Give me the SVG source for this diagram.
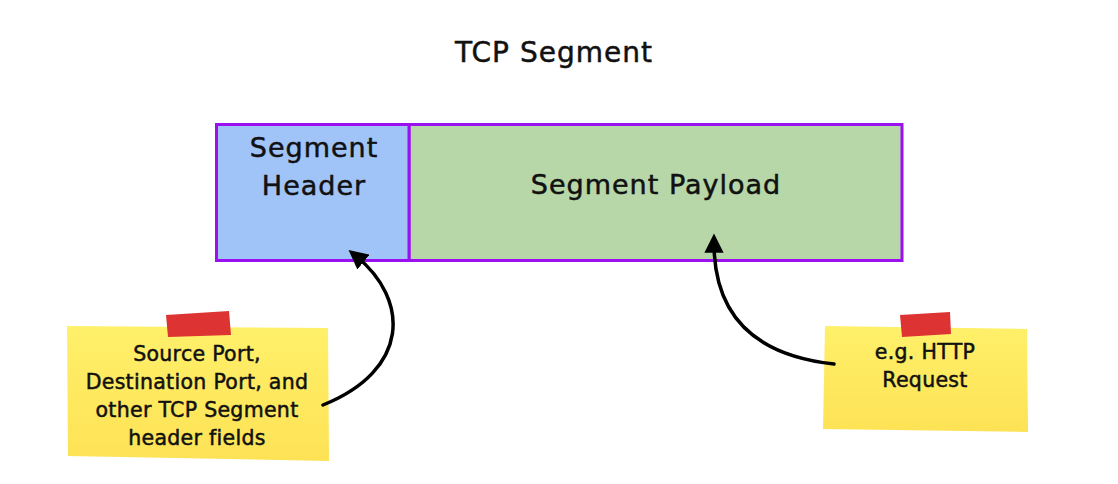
<svg xmlns="http://www.w3.org/2000/svg" width="1118" height="484" viewBox="0 0 1118 484">
<style>
  text { font-family: "DejaVu Sans", "Noto Sans", sans-serif; fill: #111; stroke: #111; stroke-width: 0.5; text-anchor: middle; }
  .big { font-size: 27px; letter-spacing: 1px; }
  .note { font-size: 20.5px; letter-spacing: 0.3px; }
  .box { stroke: #9b10f0; stroke-width: 3; }
  .conn { fill: none; stroke: #000; stroke-width: 3.5; stroke-linecap: round; }
  .tape { fill: #dd3333; }
</style>
<defs>
  <marker id="ah" viewBox="0 0 10 10" refX="5" refY="5" markerWidth="5.5" markerHeight="5.5" orient="auto-start-reverse" markerUnits="strokeWidth">
    <path d="M0,0 L10,5 L0,10 Z" fill="#000"/>
  </marker>
  <linearGradient id="sg" x1="0" y1="0" x2="0" y2="1">
    <stop offset="0" stop-color="#fff06a"/>
    <stop offset="1" stop-color="#fde255"/>
  </linearGradient>
</defs>
<rect width="1118" height="484" fill="#fff"/>
<g id="title"><text x="554" y="62" style="font-size:28px;letter-spacing:1px">TCP Segment</text></g>
<g id="payload">
  <rect class="box" x="409" y="124.5" width="493" height="136" fill="#b7d7a8"/>
  <text class="big" x="656" y="194">Segment Payload</text>
</g>
<g id="header">
  <rect class="box" x="216.5" y="124.5" width="192.5" height="136" fill="#a0c4f8"/>
  <text class="big" x="314" y="157">Segment</text>
  <text class="big" x="314" y="195">Header</text>
</g>
<g id="note-left">
  <polygon points="67,326 328,328 329,461 68,456" fill="url(#sg)"/>
  <polygon points="166,315 229,311 231,335 168,337" class="tape"/>
  <text class="note" x="197" y="361">Source Port,</text>
  <text class="note" x="197" y="389">Destination Port, and</text>
  <text class="note" x="197" y="417">other TCP Segment</text>
  <text class="note" x="197" y="445">header fields</text>
</g>
<g id="note-right">
  <polygon points="825,326 1027,329 1028,432 823,429" fill="url(#sg)"/>
  <polygon points="900,315 950,312 951,334 902,337" class="tape"/>
  <text class="note" x="925" y="359">e.g. HTTP</text>
  <text class="note" x="925" y="387">Request</text>
</g>
<g id="connectors">
  <path class="conn" d="M323,405 C410,370 410,300 356,256" marker-end="url(#ah)"/>
  <path class="conn" d="M834,364 C760,356 714,320 714,243" marker-end="url(#ah)"/>
</g>
</svg>
